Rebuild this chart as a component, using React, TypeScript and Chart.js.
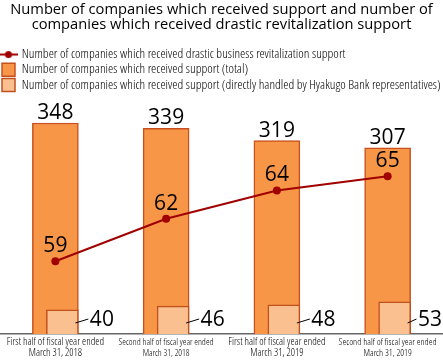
import React, { useEffect, useRef } from "react";
import { Chart, registerables } from "chart.js";

Chart.register(...registerables);

const categories: string[][] = [
  ["First half of fiscal year ended", "March 31, 2018"],
  ["Second half of fiscal year ended", "March 31, 2018"],
  ["First half of fiscal year ended", "March 31, 2019"],
  ["Second half of fiscal year ended", "March 31, 2019"],
];
const tickFontSizes = [10.6, 9.3, 10.6, 9.6];
const totalSupport = [348, 339, 319, 307];
const directSupport = [40, 46, 48, 53];
const drasticSupport = [59, 62, 64, 65];

const titleLines = [
  "Number of companies which received support and number of",
  "companies which received drastic revitalization support",
];
const seriesNames = [
  "Number of companies which received drastic business revitalization support",
  "Number of companies which received support (total)",
  "Number of companies which received support (directly handled by Hyakugo Bank representatives)",
];

const LINE = "#a00000";
const BIG_FILL = "#F79646";
const BIG_BORDER = "#C8501E";
const SMALL_FILL = "#FAC08F";
const SMALL_BORDER = "#C0501E";
const SANS = "'Open Sans', 'Noto Sans', sans-serif";
const COND = "'Open Sans Condensed Light', 'Open Sans', sans-serif";

function lineMarker(): HTMLCanvasElement {
  const c = document.createElement("canvas");
  c.width = 18;
  c.height = 9;
  const g = c.getContext("2d")!;
  g.strokeStyle = LINE;
  g.lineWidth = 2;
  g.beginPath();
  g.moveTo(0, 4.5);
  g.lineTo(18, 4.5);
  g.stroke();
  g.fillStyle = LINE;
  g.beginPath();
  g.arc(9, 4.5, 3.5, 0, Math.PI * 2);
  g.fill();
  return c;
}

const labelPlugin = {
  id: "valueLabels",
  afterDatasetsDraw(chart: any) {
    const ctx = chart.ctx as CanvasRenderingContext2D;
    const bottom = chart.chartArea.bottom;
    ctx.save();
    ctx.fillStyle = "#000";
    ctx.font = `21px ${SANS}`;
    ctx.textBaseline = "alphabetic";
    const bigMeta = chart.getDatasetMeta(1);
    bigMeta.data.forEach((el: any, i: number) => {
      ctx.textAlign = "center";
      ctx.fillText(String(totalSupport[i]), el.x, el.y - 4);
    });
    const smallMeta = chart.getDatasetMeta(2);
    smallMeta.data.forEach((el: any, i: number) => {
      const right = el.x + el.width / 2;
      const txt = String(directSupport[i]);
      const w = ctx.measureText(txt).width;
      const tx = Math.min(right + 11.5, chart.width - w - 1);
      ctx.strokeStyle = "#000";
      ctx.lineWidth = 1;
      ctx.beginPath();
      ctx.moveTo(right - 3, bottom - 11);
      ctx.lineTo(tx - 1.5, bottom - 15);
      ctx.stroke();
      ctx.textAlign = "left";
      ctx.fillText(txt, tx, bottom - 8);
    });
    const lineMeta = chart.getDatasetMeta(0);
    lineMeta.data.forEach((el: any, i: number) => {
      ctx.textAlign = "center";
      ctx.fillText(String(drasticSupport[i]), el.x, el.y - 9);
    });
    ctx.restore();
  },
};

export default function App() {
  const ref = useRef<HTMLCanvasElement>(null);
  useEffect(() => {
    if (!ref.current) return;
    const marker = lineMarker();
    const chart = new Chart(ref.current, {
      type: "bar",
      data: {
        labels: categories,
        datasets: [
          {
            type: "line",
            label: seriesNames[0],
            data: drasticSupport,
            yAxisID: "y2",
            xAxisID: "x",
            borderColor: LINE,
            backgroundColor: LINE,
            borderWidth: 2,
            pointRadius: 4,
            pointBorderWidth: 0,
            pointBackgroundColor: LINE,
            order: 0,
          } as any,
          {
            type: "bar",
            label: seriesNames[1],
            data: totalSupport,
            yAxisID: "y",
            xAxisID: "x",
            backgroundColor: BIG_FILL,
            borderColor: BIG_BORDER,
            borderWidth: 1.5,
            barThickness: 46,
            grouped: false,
            order: 2,
          },
          {
            type: "bar",
            label: seriesNames[2],
            data: directSupport.map((v, i) => ({ x: i, y: v })),
            yAxisID: "y",
            xAxisID: "x2",
            backgroundColor: SMALL_FILL,
            borderColor: SMALL_BORDER,
            borderWidth: 1.5,
            barThickness: 32,
            grouped: false,
            order: 1,
          } as any,
        ],
      },
      options: {
        animation: false,
        responsive: false,
        layout: { autoPadding: false, padding: { left: 0, right: 0, top: 0, bottom: -2 } },
        plugins: {
          tooltip: { enabled: false },
          title: {
            display: true,
            text: titleLines,
            color: "#000",
            font: { family: SANS, size: 14.7, weight: "normal", lineHeight: 1.05 },
            padding: { top: 2, bottom: 13 },
          },
          legend: {
            display: true,
            align: "start",
            labels: {
              color: "#000",
              font: { family: COND, size: 13.3 },
              padding: 2,
              boxWidth: 13,
              boxHeight: 13,
              usePointStyle: true,
              generateLabels: () => [
                { text: seriesNames[0], pointStyle: marker, fillStyle: LINE, strokeStyle: LINE, lineWidth: 0, datasetIndex: 0, hidden: false },
                { text: seriesNames[1], pointStyle: "rect", fillStyle: BIG_FILL, strokeStyle: BIG_BORDER, lineWidth: 1.5, datasetIndex: 1, hidden: false },
                { text: seriesNames[2], pointStyle: "rect", fillStyle: SMALL_FILL, strokeStyle: SMALL_BORDER, lineWidth: 1.5, datasetIndex: 2, hidden: false },
              ] as any,
            },
          },
        },
        scales: {
          x: {
            type: "category",
            offset: true,
            grid: { display: false, drawTicks: false },
            border: { display: true, color: "#666", width: 1.5 },
            ticks: {
              color: "#000",
              padding: 3,
              maxRotation: 0,
              autoSkip: false,
              font: (c: any) => {
                const s = tickFontSizes[c.index] || 10;
                return { family: COND, size: s, lineHeight: 11 / s };
              },
            },
          },
          x2: {
            type: "linear",
            display: false,
            offset: false,
            min: -0.5 - 0.0632,
            max: 3.5 - 0.0632,
          },
          y: {
            display: false,
            min: 0,
            max: 383,
          },
          y2: {
            display: false,
            min: 53.857,
            max: 53.857 + 229.7 / 14,
          },
        },
      } as any,
      plugins: [labelPlugin],
    });
    return () => chart.destroy();
  }, []);
  return (
    <div style={{ position: "fixed", left: 0, top: 0, width: 443, height: 360, background: "#fff" }}>
      <canvas ref={ref} width={443} height={360} />
    </div>
  );
}
